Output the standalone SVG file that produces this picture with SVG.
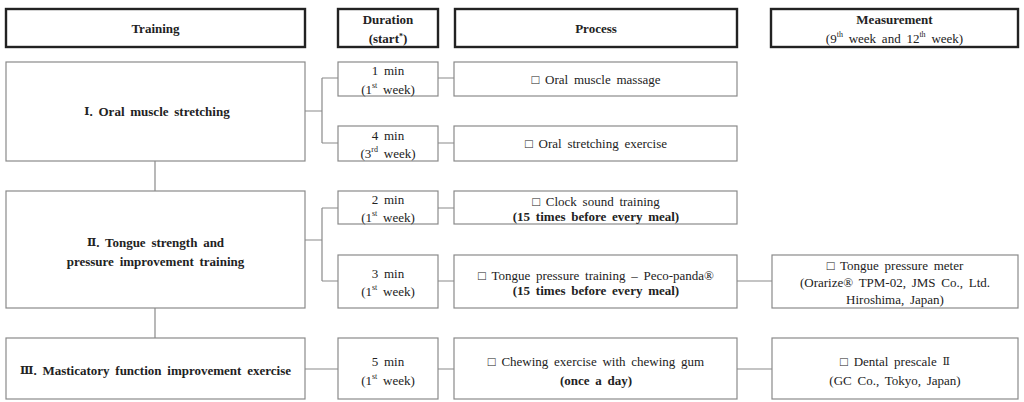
<svg xmlns="http://www.w3.org/2000/svg" width="1024" height="402" viewBox="0 0 1024 402">
<style>
text{font-family:"Liberation Serif","DejaVu Serif",serif;font-size:13px;fill:#222;text-anchor:middle;dominant-baseline:central;word-spacing:2.5px}
.b{font-weight:bold}
.rn{font-size:11px}
.hd{fill:#fff;stroke:#222;stroke-width:2.4}
.bx{fill:#fff;stroke:#8a8a8a;stroke-width:1.2}
.cn{fill:none;stroke:#8a8a8a;stroke-width:1.2}
.sup{font-size:8px}
</style>
<rect width="1024" height="402" fill="#fff"/>
<g id="connectors">
<path class="cn" d="M305,111 H322 M322,78 V143 M322,78 H338 M322,143 H338 M438,78 H454 M438,143 H454"/>
<path class="cn" d="M155,161 V191 M155,308 V338"/>
<path class="cn" d="M305,240 H322 M322,208 V281 M322,208 H338 M322,281 H338 M438,208 H454 M438,281 H454 M737,281 H772"/>
<path class="cn" d="M305,369 H338 M438,369 H454 M737,369 H772"/>
</g>
<g id="h-training"><rect class="hd" x="6" y="9" width="299" height="38"/><text class="b" x="155.5" y="28">Training</text></g>
<g id="h-duration"><rect class="hd" x="338" y="9" width="100" height="38"/><text class="b" x="388" y="19">Duration</text><text class="b" x="388" y="38">(start<tspan class="sup" dy="-2">*</tspan><tspan dy="2">)</tspan></text></g>
<g id="h-process"><rect class="hd" x="455" y="9" width="282" height="38"/><text class="b" x="596" y="28">Process</text></g>
<g id="h-measure"><rect class="hd" x="771" y="9" width="247" height="38"/><text class="b" x="894.5" y="19">Measurement</text><text x="894.5" y="38">(9<tspan class="sup" dy="-4">th</tspan><tspan dy="4"> week and 12</tspan><tspan class="sup" dy="-4">th</tspan><tspan dy="4"> week)</tspan></text></g>

<g id="t1"><rect class="bx" x="6" y="62" width="299" height="99"/><text class="b" x="157" y="111"><tspan class="rn">Ⅰ</tspan>. Oral muscle stretching</text></g>
<g id="d1"><rect class="bx" x="338" y="62" width="100" height="34"/><text x="388" y="70">1 min</text><text x="388" y="89">(1<tspan class="sup" dy="-4">st</tspan><tspan dy="4"> week)</tspan></text></g>
<g id="d2"><rect class="bx" x="338" y="126" width="100" height="35"/><text x="388" y="135">4 min</text><text x="388" y="153">(3<tspan class="sup" dy="-4">rd</tspan><tspan dy="4"> week)</tspan></text></g>
<g id="p1"><rect class="bx" x="454" y="62" width="283" height="34"/><text x="596" y="79">□ Oral muscle massage</text></g>
<g id="p2"><rect class="bx" x="454" y="126" width="283" height="35"/><text x="596" y="143.5">□ Oral stretching exercise</text></g>

<g id="t2"><rect class="bx" x="6" y="191" width="299" height="117"/><text class="b" x="155.5" y="242"><tspan class="rn">Ⅱ</tspan>. Tongue strength and</text><text class="b" x="155.5" y="261">pressure improvement training</text></g>
<g id="d3"><rect class="bx" x="338" y="191" width="100" height="33"/><text x="388" y="199">2 min</text><text x="388" y="217">(1<tspan class="sup" dy="-4">st</tspan><tspan dy="4"> week)</tspan></text></g>
<g id="d4"><rect class="bx" x="338" y="255" width="100" height="53"/><text x="388" y="273">3 min</text><text x="388" y="291">(1<tspan class="sup" dy="-4">st</tspan><tspan dy="4"> week)</tspan></text></g>
<g id="p3"><rect class="bx" x="454" y="191" width="283" height="33"/><text x="596" y="201">□ Clock sound training</text><text class="b" x="596" y="216">(15 times before every meal)</text></g>
<g id="p4"><rect class="bx" x="454" y="255" width="283" height="53"/><text x="596" y="275">□ Tongue pressure training – Peco-panda®</text><text class="b" x="596" y="290">(15 times before every meal)</text></g>
<g id="m1"><rect class="bx" x="772" y="255" width="246" height="53"/><text x="895" y="265">□ Tongue pressure meter</text><text x="895" y="282">(Orarize® TPM-02, JMS Co., Ltd.</text><text x="895" y="299">Hiroshima, Japan)</text></g>

<g id="t3"><rect class="bx" x="6" y="338" width="299" height="61"/><text class="b" x="155.5" y="370"><tspan class="rn">Ⅲ</tspan>. Masticatory function improvement exercise</text></g>
<g id="d5"><rect class="bx" x="338" y="338" width="100" height="61"/><text x="388" y="361">5 min</text><text x="388" y="380">(1<tspan class="sup" dy="-4">st</tspan><tspan dy="4"> week)</tspan></text></g>
<g id="p5"><rect class="bx" x="454" y="338" width="283" height="61"/><text x="596" y="361">□ Chewing exercise with chewing gum</text><text class="b" x="596" y="380">(once a day)</text></g>
<g id="m2"><rect class="bx" x="772" y="338" width="246" height="61"/><text x="895" y="361">□ Dental prescale <tspan class="rn">Ⅱ</tspan></text><text x="895" y="380">(GC Co., Tokyo, Japan)</text></g>
</svg>
